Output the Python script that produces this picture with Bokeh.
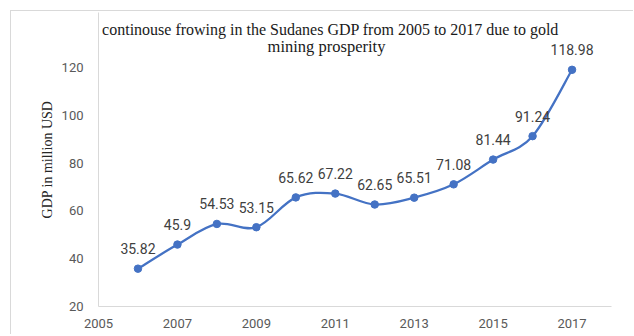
from bokeh.plotting import figure
from bokeh.models import ColumnDataSource, LabelSet, Label, FixedTicker
from bokeh.core.properties import value
from bokeh.embed import file_html
from bokeh.resources import INLINE

# ---- data ----
years = [2006, 2007, 2008, 2009, 2010, 2011, 2012, 2013, 2014, 2015, 2016, 2017]
gdp = [35.82, 45.9, 54.53, 53.15, 65.62, 67.22, 62.65, 65.51, 71.08, 81.44, 91.24, 118.98]
x_ticks = [2005, 2007, 2009, 2011, 2013, 2015, 2017]
y_ticks = [20, 40, 60, 80, 100, 120]
title_lines = ["continouse frowing in the Sudanes GDP from 2005 to 2017 due to gold",
               "mining prosperity"]
y_label = "GDP in million USD"

COLOR = "#4472C4"
TICK_COLOR = "#595959"
AXIS_COLOR = "#d9d9d9"
SANS = "Roboto"
SERIF = "Liberation Serif"

p = figure(width=623, height=324, x_range=(2005, 2018), y_range=(20, 142.94),
           output_backend="svg", toolbar_location=None,
           min_border_left=87, min_border_right=23, min_border_top=1, min_border_bottom=29)
p.styles = {"margin-left": "10px", "margin-top": "10px",
            "border-left": "1px solid #d9d9d9", "border-top": "1px solid #d9d9d9"}

p.outline_line_color = None
p.xgrid.visible = False
p.ygrid.visible = False
p.background_fill_color = "white"
p.border_fill_color = "white"

# smoothed line (Catmull-Rom style bezier computed from the data points)
n = len(years)
x0, y0, x1, y1, cx0, cy0, cx1, cy1 = [], [], [], [], [], [], [], []
for i in range(n - 1):
    pm = max(i - 1, 0)
    pp = min(i + 2, n - 1)
    x0.append(years[i]); y0.append(gdp[i])
    x1.append(years[i + 1]); y1.append(gdp[i + 1])
    cx0.append(years[i] + (years[i + 1] - years[pm]) / 6.0)
    cy0.append(gdp[i] + (gdp[i + 1] - gdp[pm]) / 6.0)
    cx1.append(years[i + 1] - (years[pp] - years[i]) / 6.0)
    cy1.append(gdp[i + 1] - (gdp[pp] - gdp[i]) / 6.0)
p.bezier(x0=x0, y0=y0, x1=x1, y1=y1, cx0=cx0, cy0=cy0, cx1=cx1, cy1=cy1,
         line_color=COLOR, line_width=2.25)

src = ColumnDataSource(dict(x=years, y=gdp, t=[f"{v:g}" for v in gdp]))
p.scatter("x", "y", source=src, size=7.5, fill_color=COLOR, line_color=COLOR)

labels = LabelSet(x="x", y="y", text="t", source=src, y_offset=20,
                  text_align="center", text_baseline="middle",
                  text_font=value(SANS), text_font_size="14px", text_color="#404040")
p.add_layout(labels)

# axes
for ax in (p.xaxis[0], p.yaxis[0]):
    ax.axis_line_color = AXIS_COLOR
    ax.axis_line_width = 1
    ax.major_tick_line_color = None
    ax.minor_tick_line_color = None
    ax.major_tick_out = 0
    ax.major_tick_in = 0
    ax.major_label_text_color = TICK_COLOR
    ax.major_label_text_font_size = "13px"
    ax.major_label_text_font_style = "normal"
    ax.major_label_text_font = SANS

p.xaxis.ticker = FixedTicker(ticks=x_ticks)
p.yaxis.ticker = FixedTicker(ticks=y_ticks)
p.xaxis.major_label_standoff = 12
p.yaxis.major_label_standoff = 15

p.yaxis.axis_label = y_label
p.yaxis.axis_label_text_font = SERIF
p.yaxis.axis_label_text_font_style = "normal"
p.yaxis.axis_label_text_font_size = "14px"
p.yaxis.axis_label_text_color = "#262626"
p.yaxis.axis_label_standoff = 4

# two-line title, centred over the chart (screen units from the plot area's bottom-left)
for txt, xx, yy, fs in zip(title_lines, [232, 228], [277, 260], ["16px", "16.5px"]):
    p.add_layout(Label(x=xx, y=yy, x_units="screen", y_units="screen", text=txt,
                       text_align="center", text_baseline="alphabetic", text_font=SERIF,
                       text_font_size=fs, text_color="#1a1a1a"))

open("out.html", "w").write(file_html(p, INLINE))
